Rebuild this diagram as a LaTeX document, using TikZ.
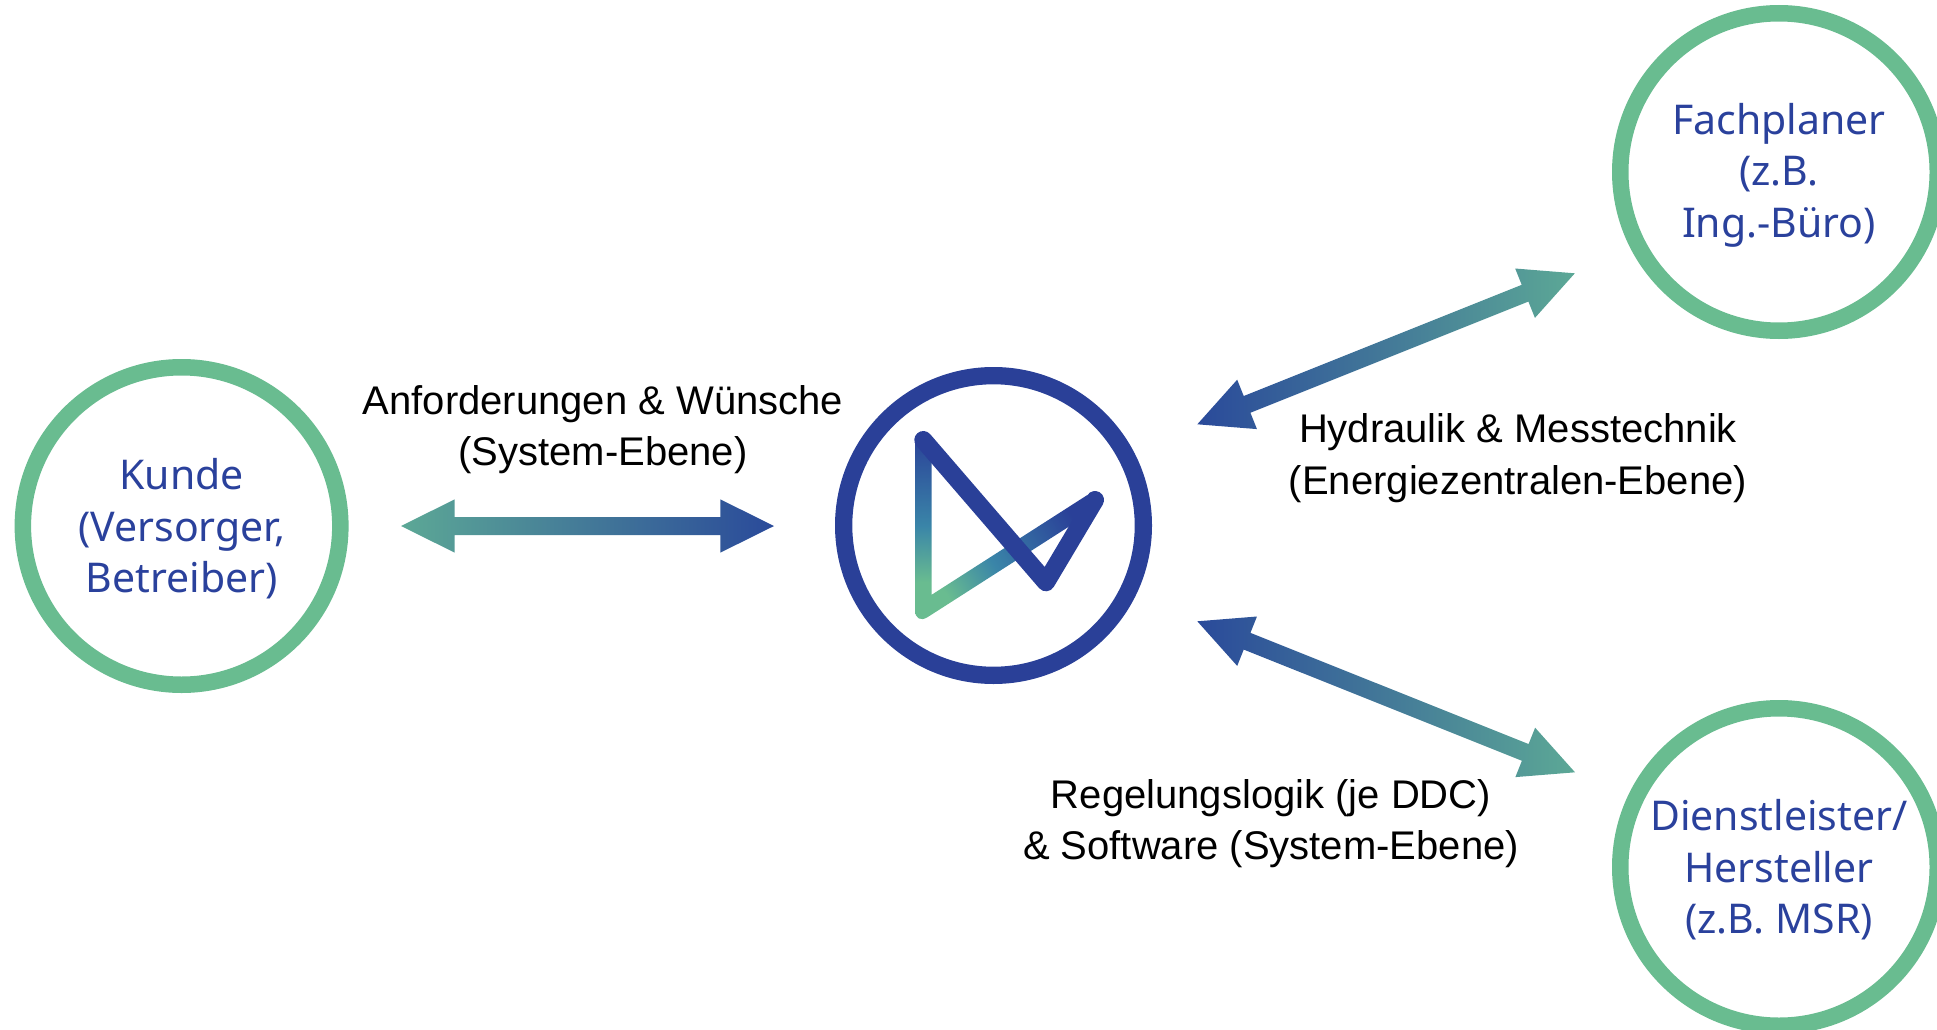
\documentclass[tikz,border=0pt]{standalone}
\usepackage{fontspec}
\setmainfont{Liberation Sans}
\newfontfamily\namefont{Noto Sans}
\usetikzlibrary{calc}
\definecolor{ringgreen}{HTML}{69BC90}
\definecolor{arrgreen}{HTML}{5CA896}
\definecolor{navy}{HTML}{2A4098}
\definecolor{arrblue}{HTML}{2A4A9A}
\definecolor{nametext}{HTML}{2A419C}
\definecolor{logoteal}{HTML}{3A85A8}
\pgfdeclareradialshading{logoshade}{\pgfpointorigin}{
 color(0bp)=(ringgreen); color(3.5bp)=(ringgreen); color(10.5bp)=(logoteal); color(22bp)=(navy); color(50bp)=(navy)}
\newcommand{\firstline}{\rule{0pt}{37pt}}
\tikzset{
 party/.style={circle,draw=ringgreen,line width=16.5pt,minimum size=317.5pt,inner sep=0pt,outer sep=0pt,
   align=center,text=nametext,font=\namefont\fontsize{41}{51.5}\selectfont},
 flowlabel/.style={align=center,text=black,inner sep=0pt,font=\fontsize{40}{51.5}\selectfont},
 hubring/.style={circle,draw=navy,line width=17.3pt,minimum size=299.7pt,inner sep=0pt,outer sep=0pt},
 logostroke/.style={draw=navy,line width=18pt,line cap=round,line join=round}
}
% double arrow between two named points; #3,#4 = colours at left/right of the box
\newcommand{\dblarrow}[4]{%
 \shade[left color=#3,right color=#4]
  (#1)
  -- ($(#1)!53.6pt!(#2)!26.6pt!90:(#2)$)
  -- ($(#1)!53.6pt!(#2)!9pt!90:(#2)$)
  -- ($(#2)!53.6pt!(#1)!9pt!-90:(#1)$)
  -- ($(#2)!53.6pt!(#1)!26.6pt!-90:(#1)$)
  -- (#2)
  -- ($(#2)!53.6pt!(#1)!26.6pt!90:(#1)$)
  -- ($(#2)!53.6pt!(#1)!9pt!90:(#1)$)
  -- ($(#1)!53.6pt!(#2)!9pt!-90:(#2)$)
  -- ($(#1)!53.6pt!(#2)!26.6pt!-90:(#2)$)
  -- cycle;}
\begin{document}
\begin{tikzpicture}[x=1pt,y=-1pt]
\useasboundingbox (0,0) rectangle (1937,1030);
\clip (0,0) rectangle (1937,1030);
\node[party] (kunde) at (181.6,526) {\firstline Kunde\\(Versorger,\\Betreiber)};
\node[party] (fach) at (1779,172) {\firstline Fachplaner\\(z.B.\\Ing.-Büro)};
\node[party] (dienst) at (1779,867) {\firstline Dienstleister/\\Hersteller\\(z.B. MSR)};
\node[hubring] (hub) at (993.5,525.5) {};
% logo
\coordinate (la) at (923.3,440);
\coordinate (lb) at (923.3,610);
\coordinate (lc) at (1095,500);
\coordinate (ld) at (1046,582.3);
\begin{scope}
\clip (915,440) [rounded corners=15pt] -- (915,625.2) [sharp corners] -- (1099.5,507) -- (1090.5,493) -- (931.6,594.8) -- (931.6,440) -- cycle;
\shade[shading=logoshade] (lb) circle (200pt);
\end{scope}
\draw[logostroke] (lc) -- (ld) -- (la);
% arrows
\coordinate (h1) at (401,526);
\coordinate (h2) at (774,526);
\coordinate (u1) at (1197.3,424.3);
\coordinate (u2) at (1574.8,273.3);
\coordinate (d1) at (1197.3,621.3);
\coordinate (d2) at (1575,772.3);
\dblarrow{h1}{h2}{arrgreen}{arrblue}
\dblarrow{u1}{u2}{arrblue}{arrgreen}
\dblarrow{d1}{d2}{arrblue}{arrgreen}
% labels
\node[flowlabel] (l1) at (603,429.5) {Anforderungen \& Wünsche\\(System-Ebene)};
\node[flowlabel] (l2) at (1518,458) {Hydraulik \& Messtechnik\\(Energiezentralen-Ebene)};
\node[flowlabel] (l3) at (1271,823.5) {Regelungslogik (je DDC)\\\& Software (System-Ebene)};
\end{tikzpicture}
\end{document}
